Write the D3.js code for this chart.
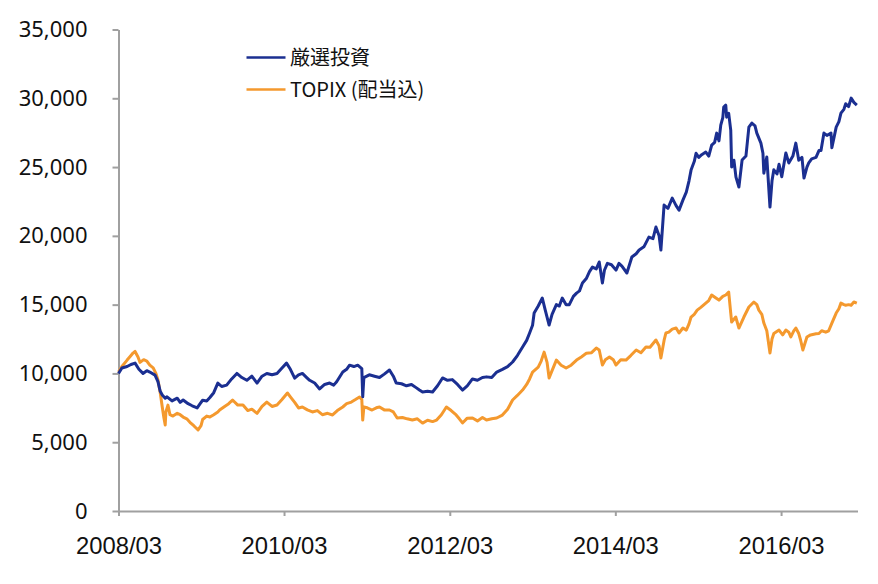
<!DOCTYPE html>
<html><head><meta charset="utf-8">
<script src="https://cdn.jsdelivr.net/npm/d3@7"></script>
<style>
html,body{margin:0;padding:0;background:#fff;}
svg{display:block;}
</style></head>
<body>
<svg id="chart" width="878" height="584"></svg>
<script>
// ---------- data ----------
const seriesNames = ["厳選投資", "TOPIX (配当込)"];
const yTicks = [0, 5000, 10000, 15000, 20000, 25000, 30000, 35000];
const xTickLabels = ["2008/03", "2010/03", "2012/03", "2014/03", "2016/03"];

const selDates = ["2008-03-01","2008-03-16","2008-04-08","2008-04-25","2008-05-13","2008-05-30","2008-06-17","2008-07-04","2008-07-17","2008-08-09","2008-08-22","2008-09-01","2008-09-10","2008-09-23","2008-10-01","2008-10-23","2008-11-15","2008-11-28","2008-12-11","2009-01-02","2009-01-20","2009-02-11","2009-02-24","2009-03-07","2009-03-25","2009-04-08","2009-04-25","2009-05-13","2009-05-30","2009-06-21","2009-07-13","2009-08-05","2009-08-27","2009-09-18","2009-10-10","2009-11-02","2009-11-24","2009-12-15","2010-01-07","2010-01-29","2010-02-20","2010-03-12","2010-03-29","2010-04-17","2010-05-04","2010-05-21","2010-06-09","2010-06-22","2010-07-14","2010-08-05","2010-08-27","2010-09-18","2010-10-06","2010-10-19","2010-11-15","2010-12-02","2010-12-15","2011-01-03","2011-01-20","2011-02-07","2011-02-11","2011-02-16","2011-03-12","2011-04-04","2011-04-26","2011-05-17","2011-06-09","2011-06-26","2011-07-09","2011-08-01","2011-08-23","2011-09-14","2011-10-06","2011-10-19","2011-11-02","2011-11-24","2011-12-16","2012-01-07","2012-01-29","2012-02-20","2012-03-12","2012-04-04","2012-04-26","2012-05-17","2012-06-09","2012-07-01","2012-07-23","2012-08-10","2012-09-02","2012-09-24","2012-10-19","2012-11-11","2012-12-03","2012-12-24","2013-01-16","2013-02-03","2013-02-16","2013-03-01","2013-03-08","2013-03-26","2013-04-13","2013-04-26","2013-05-13","2013-05-26","2013-06-14","2013-06-27","2013-07-10","2013-07-27","2013-08-10","2013-08-28","2013-09-11","2013-09-24","2013-10-07","2013-10-24","2013-11-07","2013-11-20","2013-12-07","2013-12-20","2014-01-03","2014-01-12","2014-01-25","2014-02-12","2014-03-04","2014-03-17","2014-03-30","2014-04-21","2014-05-13","2014-06-01","2014-06-14","2014-07-05","2014-07-27","2014-08-14","2014-08-27","2014-09-10","2014-09-18","2014-10-02","2014-10-19","2014-11-07","2014-11-24","2014-12-07","2014-12-24","2015-01-08","2015-01-20","2015-01-29","2015-02-12","2015-02-20","2015-03-04","2015-03-17","2015-04-04","2015-04-17","2015-04-30","2015-05-13","2015-05-22","2015-06-01","2015-06-09","2015-06-18","2015-06-22","2015-07-01","2015-07-05","2015-07-14","2015-07-23","2015-07-27","2015-08-06","2015-08-15","2015-08-28","2015-09-11","2015-09-28","2015-10-11","2015-10-24","2015-11-07","2015-11-15","2015-12-03","2015-12-12","2015-12-16","2015-12-29","2016-01-12","2016-01-21","2016-01-29","2016-02-12","2016-02-21","2016-03-04","2016-03-22","2016-04-04","2016-04-22","2016-05-05","2016-05-18","2016-06-01","2016-06-10","2016-06-23","2016-07-01","2016-07-14","2016-08-02","2016-08-15","2016-08-24","2016-09-06","2016-09-19","2016-10-07","2016-10-11","2016-10-30","2016-11-11","2016-11-20","2016-12-03","2016-12-11","2016-12-24","2017-01-04","2017-01-16","2017-01-29"];
const selValues = [10000,10400,10500,10650,10750,10300,10000,10200,10100,9880,9400,8700,8430,8200,8300,8000,8200,7900,8070,7800,7650,7490,7800,8050,8000,8250,8600,9300,9050,9150,9600,10000,9700,9500,9800,9300,9800,10000,9900,10000,10400,10750,10300,9660,9900,10000,9700,9500,9300,8870,9200,9300,9150,9400,10100,10300,10600,10500,10600,10350,8300,9700,9900,9800,9700,9950,10250,9800,9300,9250,9100,9200,8950,8800,8650,8700,8650,9100,9670,9500,9550,9200,8790,9100,9600,9500,9700,9750,9700,10100,10300,10500,10830,11300,11920,12400,12940,13500,14390,14900,15480,14600,13520,14300,15000,14900,15480,15000,15000,15600,15840,16000,16570,16900,17400,17730,17600,18100,16570,17500,18000,17900,17510,18000,17800,17300,18460,18700,18970,19200,19910,19800,20640,20000,18970,22240,22000,22740,22200,21870,22600,23180,24000,24780,25400,26000,25700,25900,26090,25800,26600,26800,27470,26900,28050,28600,29360,29500,28630,28900,27690,25000,25500,24270,23550,25510,25800,27900,28200,28000,27470,26740,26000,24560,25730,22090,24000,24800,24500,25200,24300,26020,25300,25800,26740,25500,25700,24200,25000,25300,25600,25700,26200,26200,27470,27300,27470,26400,27900,28300,28920,29200,29600,29400,30010,29700,29500];

const topixDates = ["2008-03-01","2008-03-16","2008-04-08","2008-04-25","2008-05-04","2008-05-13","2008-05-26","2008-06-04","2008-06-20","2008-07-04","2008-07-17","2008-08-01","2008-08-13","2008-08-22","2008-09-01","2008-09-10","2008-09-17","2008-09-23","2008-09-26","2008-10-05","2008-10-14","2008-10-27","2008-11-15","2008-11-28","2008-12-11","2008-12-27","2009-01-10","2009-01-27","2009-02-15","2009-02-28","2009-03-07","2009-03-25","2009-04-08","2009-04-25","2009-05-13","2009-05-21","2009-06-12","2009-06-30","2009-07-17","2009-08-09","2009-09-01","2009-09-22","2009-10-10","2009-11-02","2009-11-24","2009-12-15","2010-01-07","2010-01-29","2010-02-20","2010-03-16","2010-03-29","2010-04-17","2010-05-04","2010-05-21","2010-06-12","2010-07-04","2010-07-26","2010-08-17","2010-09-09","2010-10-01","2010-10-22","2010-11-15","2010-12-02","2010-12-23","2011-01-10","2011-01-28","2011-02-07","2011-02-11","2011-02-16","2011-03-03","2011-03-24","2011-04-12","2011-04-26","2011-05-17","2011-06-09","2011-06-26","2011-07-13","2011-08-05","2011-08-26","2011-09-18","2011-10-10","2011-11-02","2011-11-24","2011-12-16","2012-01-03","2012-01-24","2012-02-15","2012-03-07","2012-03-29","2012-04-12","2012-04-26","2012-05-17","2012-06-09","2012-07-01","2012-07-23","2012-08-10","2012-09-02","2012-09-24","2012-10-19","2012-11-11","2012-12-03","2012-12-24","2013-01-16","2013-02-03","2013-02-16","2013-03-01","2013-03-26","2013-04-08","2013-04-21","2013-05-04","2013-05-13","2013-05-26","2013-06-14","2013-07-05","2013-07-27","2013-08-18","2013-09-11","2013-10-02","2013-10-24","2013-11-15","2013-12-07","2013-12-20","2014-01-03","2014-01-16","2014-02-03","2014-02-20","2014-03-04","2014-03-25","2014-04-17","2014-05-08","2014-06-01","2014-06-22","2014-07-14","2014-08-01","2014-08-27","2014-09-10","2014-09-18","2014-10-02","2014-10-10","2014-10-23","2014-11-07","2014-11-24","2014-12-07","2014-12-24","2015-01-08","2015-01-20","2015-01-29","2015-02-12","2015-02-25","2015-03-13","2015-04-04","2015-04-17","2015-04-30","2015-05-17","2015-06-01","2015-06-18","2015-07-01","2015-07-14","2015-07-23","2015-07-27","2015-08-14","2015-08-28","2015-09-11","2015-09-19","2015-10-11","2015-11-02","2015-11-15","2015-11-24","2015-12-07","2015-12-16","2015-12-29","2016-01-12","2016-01-21","2016-01-29","2016-02-21","2016-03-08","2016-03-22","2016-04-04","2016-04-13","2016-04-26","2016-05-05","2016-05-18","2016-05-26","2016-06-05","2016-06-23","2016-07-09","2016-08-02","2016-08-15","2016-08-27","2016-09-14","2016-09-27","2016-10-11","2016-10-30","2016-11-11","2016-11-20","2016-12-03","2016-12-11","2016-12-24","2017-01-04","2017-01-16","2017-01-29"];
const topixValues = [10100,10500,10970,11300,11480,11600,11200,10800,11000,10900,10600,10400,10000,9520,8600,7560,6800,6250,7200,7700,7000,6900,7100,7000,6830,6700,6450,6200,5890,6200,6650,6900,6830,7000,7200,7340,7600,7800,8070,7700,7700,7300,7400,7100,7600,7920,7600,7700,8100,8580,8300,7900,7490,7560,7350,7200,7300,7000,7100,6980,7300,7560,7800,7920,8100,8290,8100,6610,7560,7500,7340,7500,7560,7350,7340,7200,6760,6800,6700,6610,6700,6390,6600,6500,6610,7000,7560,7300,6980,6700,6400,6750,6760,6550,6800,6610,6700,6760,6970,7400,8070,8400,8790,9200,9600,10100,10460,10900,11550,10800,9670,10200,10970,10600,10390,10600,10970,11200,11460,11500,11840,11700,10610,11000,11200,11000,10610,11000,10970,11300,11700,11500,11920,11900,12430,12000,11120,12400,12940,13000,13220,13300,12940,13300,13150,13600,14100,14300,14600,14800,15110,15300,15700,15500,15330,15600,15700,15910,14390,13730,14100,13300,13800,14100,14830,15190,15000,14600,14300,13660,13100,11480,12500,12900,13150,12800,13150,13000,12650,13100,13300,12900,12430,11700,12650,12800,12880,12900,13100,13000,13100,13660,14390,14700,15110,15000,14960,15000,14960,15190,15110];

const colors = ["#1b2f91", "#f4992e"];

// ---------- chart ----------
const svg = d3.select("#chart");
const parse = d3.timeParse("%Y-%m-%d");
const x = d3.scaleTime()
  .domain([parse("2008-03-01"), parse("2017-02-01")])
  .range([118.5, 857.5]);
const y = d3.scaleLinear().domain([0, 35000]).range([511, 29.5]);

const axisColor = "#a0a0a0";

// y axis
const gy = svg.append("g").attr("transform", "translate(118.5,0)")
  .call(d3.axisLeft(y).tickValues(yTicks).tickSize(6).tickSizeOuter(0)
    .tickPadding(25).tickFormat(d3.format(",")));
gy.select(".domain").attr("stroke", axisColor).attr("stroke-width", 2);
gy.selectAll(".tick line").attr("stroke", axisColor).attr("stroke-width", 2);
gy.selectAll(".tick text").attr("fill", "#111")
  .style("font-family", "'Noto Sans', 'Open Sans', sans-serif").style("font-size", "22px");

// x axis
const xTickDates = xTickLabels.map(s => d3.timeParse("%Y/%m")(s));
const gx = svg.append("g").attr("transform", "translate(0,511)")
  .call(d3.axisBottom(x).tickValues(xTickDates).tickSize(5).tickSizeOuter(0)
    .tickPadding(30).tickFormat(d3.timeFormat("%Y/%m")));
gx.select(".domain").attr("stroke", axisColor).attr("stroke-width", 2);
gx.selectAll(".tick line").attr("stroke", axisColor).attr("stroke-width", 2);
gx.selectAll(".tick text").attr("fill", "#111")
  .style("font-family", "'Liberation Sans Narrow', 'Liberation Sans', sans-serif")
  .style("font-size", "24px")
  .attr("dy", "0.35em")
  .attr("textLength", 86).attr("lengthAdjust", "spacingAndGlyphs");

// lines
const seriesData = [
  selDates.map((d, i) => ({date: parse(d), value: selValues[i]})),
  topixDates.map((d, i) => ({date: parse(d), value: topixValues[i]}))
];
const line = d3.line().x(d => x(d.date)).y(d => y(d.value));
// draw TOPIX first, then selected fund on top
[1, 0].forEach(k => {
  svg.append("path").datum(seriesData[k])
    .attr("fill", "none").attr("stroke", colors[k])
    .attr("stroke-width", 3).attr("stroke-linejoin", "round")
    .attr("d", line);
});

// legend
const legend = svg.append("g");
seriesNames.forEach((name, i) => {
  const ly = 57.5 + i * 32;
  legend.append("line").attr("x1", 246.5).attr("x2", 285.5)
    .attr("y1", ly).attr("y2", ly).attr("stroke", colors[i]).attr("stroke-width", 2.5);
  legend.append("text").attr("x", 290).attr("y", ly).attr("dy", "0.36em")
    .attr("fill", "#111")
    .style("font-family", "'Noto Sans CJK JP', 'Noto Sans', sans-serif")
    .style("font-size", "20px").text(name);
});
</script>
</body></html>
